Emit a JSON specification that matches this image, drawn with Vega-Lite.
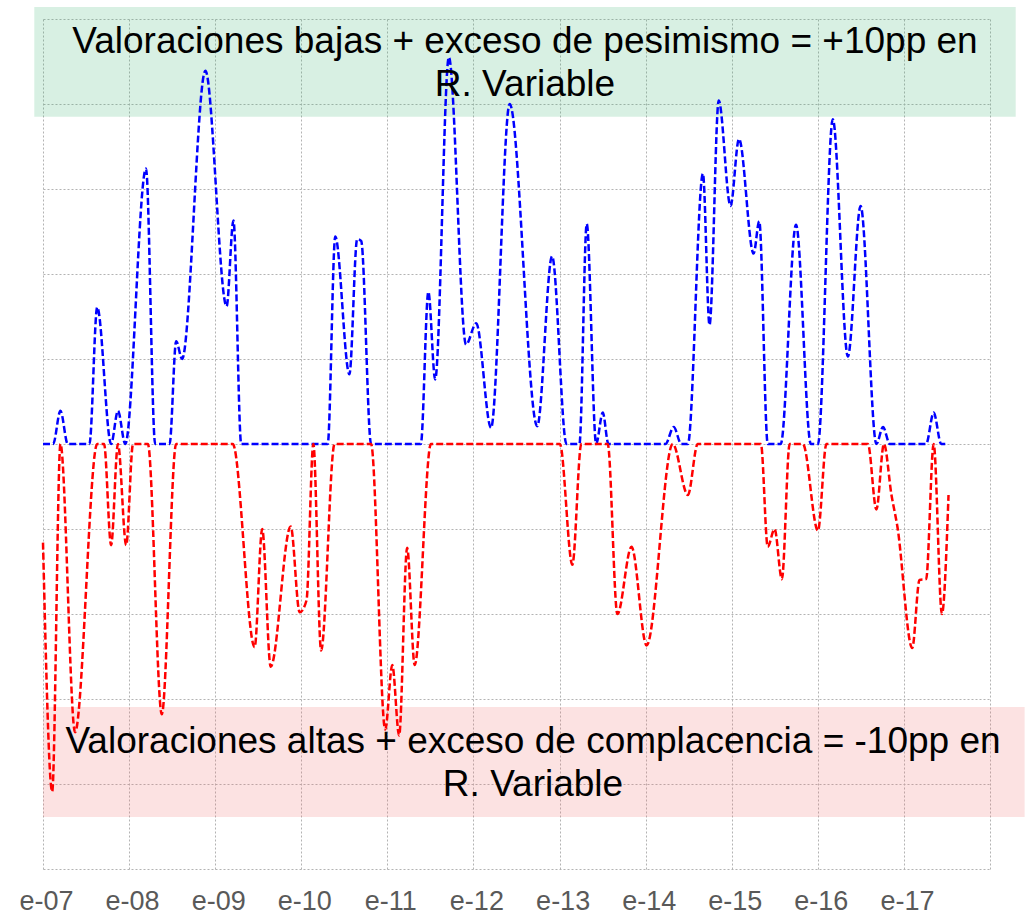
{
  "$schema": "https://vega.github.io/schema/vega-lite/v6.json",
  "width": 947,
  "height": 850,
  "autosize": {"type": "none"},
  "padding": {"left": 43, "top": 19, "right": 38, "bottom": 46},
  "background": "white",
  "config": {"view": {"stroke": null}, "font": "Liberation Sans"},
  "datasets": {
    "series": [
      {"date": "2007-01-01", "value": 0, "series": "Pesimismo"},
      {"date": "2007-02-13", "value": 0, "series": "Pesimismo"},
      {"date": "2007-03-16", "value": 0.39, "series": "Pesimismo"},
      {"date": "2007-04-16", "value": 0, "series": "Pesimismo"},
      {"date": "2007-07-17", "value": 0, "series": "Pesimismo"},
      {"date": "2007-08-19", "value": 1.61, "series": "Pesimismo"},
      {"date": "2007-10-17", "value": 0, "series": "Pesimismo"},
      {"date": "2007-11-15", "value": 0.39, "series": "Pesimismo"},
      {"date": "2007-12-16", "value": 0, "series": "Pesimismo"},
      {"date": "2008-03-13", "value": 3.24, "series": "Pesimismo"},
      {"date": "2008-04-21", "value": 0, "series": "Pesimismo"},
      {"date": "2008-06-21", "value": 0, "series": "Pesimismo"},
      {"date": "2008-07-19", "value": 1.21, "series": "Pesimismo"},
      {"date": "2008-08-13", "value": 1.0, "series": "Pesimismo"},
      {"date": "2008-11-20", "value": 4.39, "series": "Pesimismo"},
      {"date": "2009-02-18", "value": 1.62, "series": "Pesimismo"},
      {"date": "2009-03-19", "value": 2.63, "series": "Pesimismo"},
      {"date": "2009-04-21", "value": 0, "series": "Pesimismo"},
      {"date": "2010-04-23", "value": 0, "series": "Pesimismo"},
      {"date": "2010-05-25", "value": 2.44, "series": "Pesimismo"},
      {"date": "2010-07-24", "value": 0.82, "series": "Pesimismo"},
      {"date": "2010-08-26", "value": 2.41, "series": "Pesimismo"},
      {"date": "2010-09-12", "value": 2.39, "series": "Pesimismo"},
      {"date": "2010-10-24", "value": 0, "series": "Pesimismo"},
      {"date": "2011-05-23", "value": 0, "series": "Pesimismo"},
      {"date": "2011-06-24", "value": 1.79, "series": "Pesimismo"},
      {"date": "2011-07-23", "value": 0.76, "series": "Pesimismo"},
      {"date": "2011-09-19", "value": 4.55, "series": "Pesimismo"},
      {"date": "2011-12-01", "value": 1.17, "series": "Pesimismo"},
      {"date": "2012-01-13", "value": 1.42, "series": "Pesimismo"},
      {"date": "2012-03-16", "value": 0.19, "series": "Pesimismo"},
      {"date": "2012-06-03", "value": 4.0, "series": "Pesimismo"},
      {"date": "2012-09-28", "value": 0.21, "series": "Pesimismo"},
      {"date": "2012-11-30", "value": 2.21, "series": "Pesimismo"},
      {"date": "2013-01-30", "value": 0, "series": "Pesimismo"},
      {"date": "2013-03-26", "value": 0, "series": "Pesimismo"},
      {"date": "2013-04-26", "value": 2.59, "series": "Pesimismo"},
      {"date": "2013-06-05", "value": 0, "series": "Pesimismo"},
      {"date": "2013-07-03", "value": 0.37, "series": "Pesimismo"},
      {"date": "2013-07-27", "value": 0, "series": "Pesimismo"},
      {"date": "2014-03-26", "value": 0, "series": "Pesimismo"},
      {"date": "2014-04-30", "value": 0.2, "series": "Pesimismo"},
      {"date": "2014-06-01", "value": 0, "series": "Pesimismo"},
      {"date": "2014-06-29", "value": 0, "series": "Pesimismo"},
      {"date": "2014-09-01", "value": 3.18, "series": "Pesimismo"},
      {"date": "2014-09-29", "value": 1.4, "series": "Pesimismo"},
      {"date": "2014-11-07", "value": 4.04, "series": "Pesimismo"},
      {"date": "2014-12-27", "value": 2.8, "series": "Pesimismo"},
      {"date": "2015-02-01", "value": 3.59, "series": "Pesimismo"},
      {"date": "2015-04-04", "value": 2.24, "series": "Pesimismo"},
      {"date": "2015-04-28", "value": 2.62, "series": "Pesimismo"},
      {"date": "2015-06-03", "value": 0, "series": "Pesimismo"},
      {"date": "2015-07-28", "value": 0, "series": "Pesimismo"},
      {"date": "2015-10-01", "value": 2.58, "series": "Pesimismo"},
      {"date": "2015-12-03", "value": 0, "series": "Pesimismo"},
      {"date": "2016-01-02", "value": 0, "series": "Pesimismo"},
      {"date": "2016-03-05", "value": 3.82, "series": "Pesimismo"},
      {"date": "2016-05-08", "value": 1.03, "series": "Pesimismo"},
      {"date": "2016-07-01", "value": 2.8, "series": "Pesimismo"},
      {"date": "2016-09-06", "value": 0, "series": "Pesimismo"},
      {"date": "2016-10-04", "value": 0.2, "series": "Pesimismo"},
      {"date": "2016-11-02", "value": 0, "series": "Pesimismo"},
      {"date": "2017-04-05", "value": 0, "series": "Pesimismo"},
      {"date": "2017-05-07", "value": 0.37, "series": "Pesimismo"},
      {"date": "2017-06-08", "value": 0, "series": "Pesimismo"},
      {"date": "2017-07-05", "value": 0, "series": "Pesimismo"},
      {"date": "2007-01-01", "value": -1.16, "series": "Complacencia"},
      {"date": "2007-02-09", "value": -4.09, "series": "Complacencia"},
      {"date": "2007-03-16", "value": 0, "series": "Complacencia"},
      {"date": "2007-05-17", "value": -3.39, "series": "Complacencia"},
      {"date": "2007-08-19", "value": 0, "series": "Complacencia"},
      {"date": "2007-09-17", "value": 0, "series": "Complacencia"},
      {"date": "2007-10-17", "value": -1.19, "series": "Complacencia"},
      {"date": "2007-11-15", "value": 0, "series": "Complacencia"},
      {"date": "2007-12-20", "value": -1.19, "series": "Complacencia"},
      {"date": "2008-01-18", "value": 0, "series": "Complacencia"},
      {"date": "2008-03-21", "value": 0, "series": "Complacencia"},
      {"date": "2008-05-19", "value": -3.18, "series": "Complacencia"},
      {"date": "2008-07-19", "value": 0, "series": "Complacencia"},
      {"date": "2009-03-16", "value": 0, "series": "Complacencia"},
      {"date": "2009-06-17", "value": -2.39, "series": "Complacencia"},
      {"date": "2009-07-19", "value": -1.0, "series": "Complacencia"},
      {"date": "2009-08-24", "value": -2.62, "series": "Complacencia"},
      {"date": "2009-11-17", "value": -0.97, "series": "Complacencia"},
      {"date": "2009-12-25", "value": -1.98, "series": "Complacencia"},
      {"date": "2010-01-23", "value": -1.84, "series": "Complacencia"},
      {"date": "2010-02-21", "value": 0, "series": "Complacencia"},
      {"date": "2010-03-26", "value": -2.43, "series": "Complacencia"},
      {"date": "2010-05-22", "value": 0, "series": "Complacencia"},
      {"date": "2010-10-24", "value": 0, "series": "Complacencia"},
      {"date": "2010-12-23", "value": -3.36, "series": "Complacencia"},
      {"date": "2011-01-22", "value": -2.6, "series": "Complacencia"},
      {"date": "2011-02-20", "value": -3.43, "series": "Complacencia"},
      {"date": "2011-03-26", "value": -1.22, "series": "Complacencia"},
      {"date": "2011-04-27", "value": -2.6, "series": "Complacencia"},
      {"date": "2011-07-05", "value": 0, "series": "Complacencia"},
      {"date": "2013-01-02", "value": 0, "series": "Complacencia"},
      {"date": "2013-02-24", "value": -1.42, "series": "Complacencia"},
      {"date": "2013-04-03", "value": 0, "series": "Complacencia"},
      {"date": "2013-07-24", "value": 0, "series": "Complacencia"},
      {"date": "2013-09-03", "value": -2.0, "series": "Complacencia"},
      {"date": "2013-11-02", "value": -1.21, "series": "Complacencia"},
      {"date": "2014-01-05", "value": -2.37, "series": "Complacencia"},
      {"date": "2014-04-26", "value": 0, "series": "Complacencia"},
      {"date": "2014-06-29", "value": -0.6, "series": "Complacencia"},
      {"date": "2014-08-10", "value": 0, "series": "Complacencia"},
      {"date": "2015-05-05", "value": 0, "series": "Complacencia"},
      {"date": "2015-06-03", "value": -1.21, "series": "Complacencia"},
      {"date": "2015-07-02", "value": -1.0, "series": "Complacencia"},
      {"date": "2015-08-02", "value": -1.59, "series": "Complacencia"},
      {"date": "2015-09-04", "value": 0, "series": "Complacencia"},
      {"date": "2015-10-30", "value": 0, "series": "Complacencia"},
      {"date": "2016-01-02", "value": -1.02, "series": "Complacencia"},
      {"date": "2016-02-07", "value": 0, "series": "Complacencia"},
      {"date": "2016-08-01", "value": 0, "series": "Complacencia"},
      {"date": "2016-09-06", "value": -0.77, "series": "Complacencia"},
      {"date": "2016-10-08", "value": 0, "series": "Complacencia"},
      {"date": "2016-11-09", "value": -0.6, "series": "Complacencia"},
      {"date": "2016-12-04", "value": -0.97, "series": "Complacencia"},
      {"date": "2017-02-05", "value": -2.4, "series": "Complacencia"},
      {"date": "2017-03-08", "value": -1.6, "series": "Complacencia"},
      {"date": "2017-04-05", "value": -1.59, "series": "Complacencia"},
      {"date": "2017-05-07", "value": 0, "series": "Complacencia"},
      {"date": "2017-06-11", "value": -2.0, "series": "Complacencia"},
      {"date": "2017-07-09", "value": -0.6, "series": "Complacencia"}
    ],
    "zones": [
      {"zone": "pesimismo", "start": "2006-11-25", "end": "2018-04-20", "top": 5.14, "bottom": 3.85},
      {"zone": "complacencia", "start": "2007-01-01", "end": "2018-05-28", "top": -3.094, "bottom": -4.388}
    ],
    "notes": [
      {"date": "2012-08-07", "value": 4.6, "label": "Valoraciones bajas + exceso de pesimismo = +10pp en\nR. Variable"},
      {"date": "2012-09-10", "value": -3.635, "label": "Valoraciones altas + exceso de complacencia = -10pp en\nR. Variable"}
    ]
  },
  "encoding": {
    "x": {
      "field": "date",
      "type": "temporal",
      "scale": {
        "type": "utc",
        "nice": false,
        "domain": [
          {"year": 2007, "month": 1, "date": 1, "utc": true},
          {"year": 2018, "month": 1, "date": 1, "utc": true}
        ]
      },
      "axis": {
        "title": null,
        "grid": true,
        "gridColor": "#b3b3b3",
        "gridDash": [2, 2],
        "gridWidth": 1,
        "domain": false,
        "ticks": false,
        "tickCount": {"interval": "year", "step": 1},
        "labelExpr": "utcyear(datum.value) >= 2018 ? '' : 'e-' + utcFormat(datum.value, '%y')",
        "labelFont": "Liberation Sans",
        "labelFontSize": 27,
        "labelColor": "#595959",
        "labelAlign": "center",
        "labelBaseline": "alphabetic",
        "labelPadding": 40,
        "labelOffset": 3,
        "labelFlush": false,
        "labelOverlap": false
      }
    },
    "y": {
      "field": "value",
      "type": "quantitative",
      "scale": {"domain": [-5, 5], "nice": false, "zero": false},
      "axis": {
        "title": null,
        "grid": true,
        "gridColor": "#b3b3b3",
        "gridDash": [2, 2],
        "gridWidth": 1,
        "values": [-5, -4, -3, -2, -1, 0, 1, 2, 3, 4, 5],
        "labels": false,
        "ticks": false,
        "domain": false
      }
    }
  },
  "layer": [
    {
      "data": {"name": "zones"},
      "mark": {"type": "rect", "clip": false, "opacity": 0.2},
      "encoding": {
        "x": {"field": "start", "type": "temporal"},
        "x2": {"field": "end"},
        "y": {"field": "top", "type": "quantitative"},
        "y2": {"field": "bottom"},
        "fill": {
          "field": "zone",
          "type": "nominal",
          "scale": {"domain": ["pesimismo", "complacencia"], "range": ["#3cb371", "#f26d6d"]},
          "legend": null
        }
      }
    },
    {
      "data": {"values": [{}]},
      "mark": {"type": "rule", "color": "#d9d9d9", "strokeWidth": 2},
      "encoding": {"x": null, "y": {"datum": 0, "type": "quantitative"}}
    },
    {
      "data": {"name": "series"},
      "mark": {"type": "line", "interpolate": "monotone", "strokeWidth": 2.5, "strokeDash": [7, 3]},
      "encoding": {
        "color": {
          "field": "series",
          "type": "nominal",
          "scale": {"domain": ["Pesimismo", "Complacencia"], "range": ["#0000ff", "#ff0000"]},
          "legend": null
        }
      }
    },
    {
      "data": {"name": "notes"},
      "mark": {
        "type": "text",
        "font": "Liberation Sans",
        "fontSize": 37,
        "lineHeight": 43,
        "lineBreak": "\n",
        "align": "center",
        "baseline": "alphabetic",
        "color": "#000000",
        "clip": false
      },
      "encoding": {"text": {"field": "label", "type": "nominal"}}
    }
  ]
}
